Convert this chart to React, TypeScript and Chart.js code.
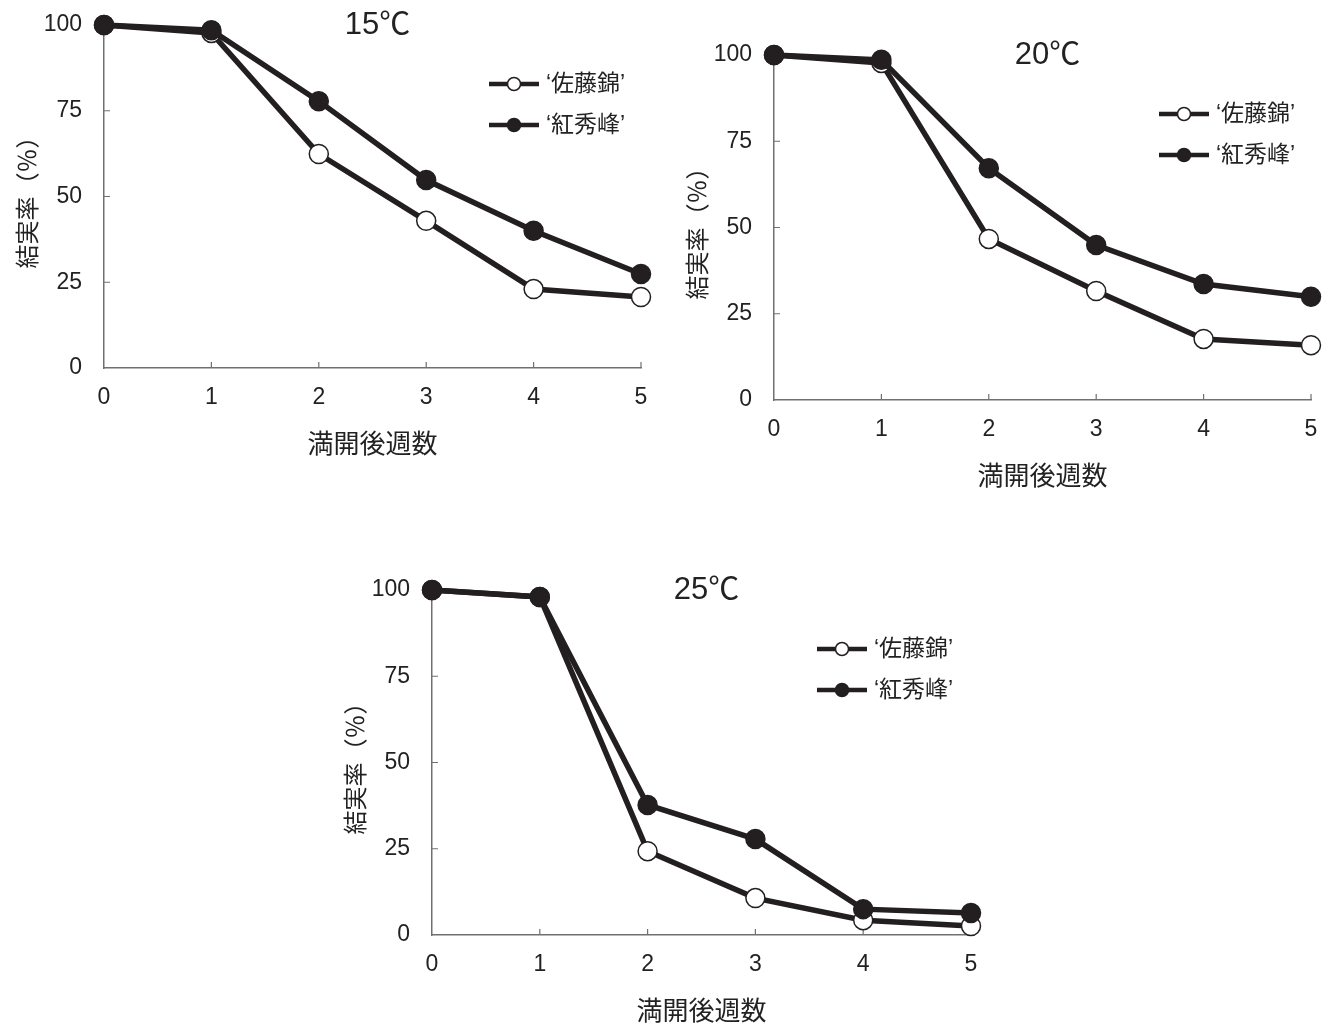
import React, { useEffect, useRef } from 'react';
import { Chart, registerables } from 'chart.js';

Chart.register(...registerables);

// ---- data ----
const weeks = ['0', '1', '2', '3', '4', '5'];
const cultivarNames = ['‘佐藤錦’', '‘紅秀峰’'];
const panelTitles = ['15℃', '20℃', '25℃'];
const xAxisTitle = '満開後週数';
const yAxisTitle = '結実率（％）';

const satoNishiki15 = [100, 97.7, 62.4, 42.9, 23.0, 20.7];
const benishuho15 = [100, 98.5, 77.8, 54.8, 40.0, 27.4];
const satoNishiki20 = [100, 97.7, 46.7, 31.6, 17.7, 15.9];
const benishuho20 = [100, 98.6, 67.2, 44.9, 33.6, 29.9];
const satoNishiki25 = [100, 98.0, 24.3, 10.7, 4.3, 2.6];
const benishuho25 = [100, 98.0, 37.7, 27.8, 7.5, 6.4];

const INK = '#231f20';
const AXIS = '#707070';
const TEXT = '#222222';
const LATIN = "'Liberation Sans', Arial, sans-serif";
const MIXED = "'Liberation Sans', 'Noto Sans CJK JP', sans-serif";
const CJK = "'Noto Sans CJK JP', sans-serif";

const decorPlugin = {
  id: 'panelDecor',
  beforeDatasetsDraw(chart: any) {
    const { ctx, chartArea: a, scales } = chart;
    const x = scales.x;
    const y = scales.y;
    ctx.save();
    ctx.strokeStyle = AXIS;
    ctx.lineWidth = 1.2;
    ctx.beginPath();
    x.ticks.forEach((_t: any, i: number) => {
      if (i === 0) return;
      const px = x.getPixelForTick(i);
      ctx.moveTo(px, a.bottom);
      ctx.lineTo(px, a.bottom - 6);
    });
    y.ticks.forEach((t: any) => {
      if (t.value === 0) return;
      const py = y.getPixelForValue(t.value);
      ctx.moveTo(a.left, py);
      ctx.lineTo(a.left + 6, py);
    });
    ctx.stroke();
    ctx.restore();
  },
  afterDraw(chart: any, _args: any, opts: any) {
    const { ctx, chartArea: a } = chart;
    ctx.save();
    // panel title
    ctx.fillStyle = TEXT;
    ctx.font = `31px ${MIXED}`;
    ctx.textAlign = 'center';
    ctx.textBaseline = 'middle';
    ctx.fillText(opts.title, (a.left + a.right) / 2 + 5, a.top);
    // legend
    chart.data.datasets.forEach((ds: any, i: number) => {
      const ly = a.top + 59 + i * 41;
      const lx = a.left + 385;
      ctx.strokeStyle = ds.borderColor;
      ctx.lineWidth = 4.5;
      ctx.beginPath();
      ctx.moveTo(lx, ly);
      ctx.lineTo(lx + 50, ly);
      ctx.stroke();
      ctx.beginPath();
      ctx.arc(lx + 25, ly, 6.5, 0, Math.PI * 2);
      ctx.fillStyle = ds.pointBackgroundColor;
      ctx.fill();
      ctx.lineWidth = 1.5;
      ctx.strokeStyle = ds.pointBorderColor;
      ctx.stroke();
      ctx.fillStyle = TEXT;
      ctx.font = `23px ${MIXED}`;
      ctx.textAlign = 'left';
      ctx.textBaseline = 'middle';
      ctx.fillText(ds.label, lx + 57, ly + 1);
    });
    ctx.restore();
  },
};

type PanelProps = {
  left: number;
  top: number;
  areaW: number;
  areaH: number;
  title: string;
  sato: number[];
  beni: number[];
};

const PAD_LEFT = 104;
const PAD_TOP = 25;
const PAD_RIGHT = 19;
const X_AXIS_H = 95;

function zeroPadding(s: any) {
  s.paddingTop = 0;
  s.paddingBottom = 0;
  s.paddingLeft = 0;
  s.paddingRight = 0;
}

function Panel({ left, top, areaW, areaH, title, sato, beni }: PanelProps) {
  const ref = useRef<HTMLCanvasElement | null>(null);
  const w = PAD_LEFT + areaW + PAD_RIGHT;
  const h = PAD_TOP + areaH + X_AXIS_H;

  useEffect(() => {
    if (!ref.current) return;
    const chart = new Chart(ref.current, {
      type: 'line',
      data: {
        labels: weeks,
        datasets: [
          {
            label: cultivarNames[0],
            data: sato,
            borderColor: INK,
            borderWidth: 5.5,
            pointRadius: 9.5,
            pointBorderWidth: 1.5,
            pointBackgroundColor: '#ffffff',
            pointBorderColor: INK,
            tension: 0,
            clip: false,
            order: 2,
          } as any,
          {
            label: cultivarNames[1],
            data: beni,
            borderColor: INK,
            borderWidth: 5.5,
            pointRadius: 9.5,
            pointBorderWidth: 1.5,
            pointBackgroundColor: INK,
            pointBorderColor: INK,
            tension: 0,
            clip: false,
            order: 1,
          } as any,
        ],
      },
      options: {
        animation: false,
        responsive: false,
        maintainAspectRatio: false,
        events: [],
        layout: { autoPadding: false, padding: { top: PAD_TOP, right: PAD_RIGHT, left: 0, bottom: 0 } },
        plugins: {
          legend: { display: false },
          title: { display: false },
          tooltip: { enabled: false },
          panelDecor: { title },
        } as any,
        scales: {
          x: {
            type: 'category',
            offset: false,
            grid: { display: false, drawTicks: false },
            border: { display: true, color: AXIS, width: 1.5 },
            ticks: { color: TEXT, font: { size: 23, family: LATIN }, padding: 16, maxRotation: 0 },
            title: {
              display: true,
              text: xAxisTitle,
              color: TEXT,
              font: { size: 26, family: CJK },
              padding: { top: 0, bottom: 4 },
            },
            afterFit: (s: any) => {
              s.height = X_AXIS_H;
              zeroPadding(s);
            },
          },
          y: {
            min: 0,
            max: 100,
            grid: { display: false, drawTicks: false },
            border: { display: true, color: AXIS, width: 1.5 },
            ticks: { stepSize: 25, color: TEXT, font: { size: 23, family: LATIN }, padding: 22 },
            title: {
              display: true,
              text: yAxisTitle,
              color: TEXT,
              font: { size: 24, family: CJK },
              padding: { top: 12, bottom: 0 },
            },
            afterFit: (s: any) => {
              s.width = PAD_LEFT;
              zeroPadding(s);
            },
          },
        } as any,
      },
      plugins: [decorPlugin as any],
    });
    return () => chart.destroy();
  }, []);

  return (
    <div style={{ position: 'absolute', left, top, width: w, height: h }}>
      <canvas ref={ref} width={w} height={h} style={{ width: w, height: h, display: 'block' }} />
    </div>
  );
}

export default function App() {
  return (
    <div
      style={{
        position: 'absolute',
        left: 0,
        top: 0,
        width: 1328,
        height: 1023,
        overflow: 'hidden',
        background: '#ffffff',
      }}
    >
      <Panel left={0} top={0} areaW={537} areaH={343} title={panelTitles[0]} sato={satoNishiki15} beni={benishuho15} />
      <Panel left={670} top={30} areaW={537} areaH={345} title={panelTitles[1]} sato={satoNishiki20} beni={benishuho20} />
      <Panel left={328} top={565} areaW={539} areaH={345} title={panelTitles[2]} sato={satoNishiki25} beni={benishuho25} />
    </div>
  );
}
